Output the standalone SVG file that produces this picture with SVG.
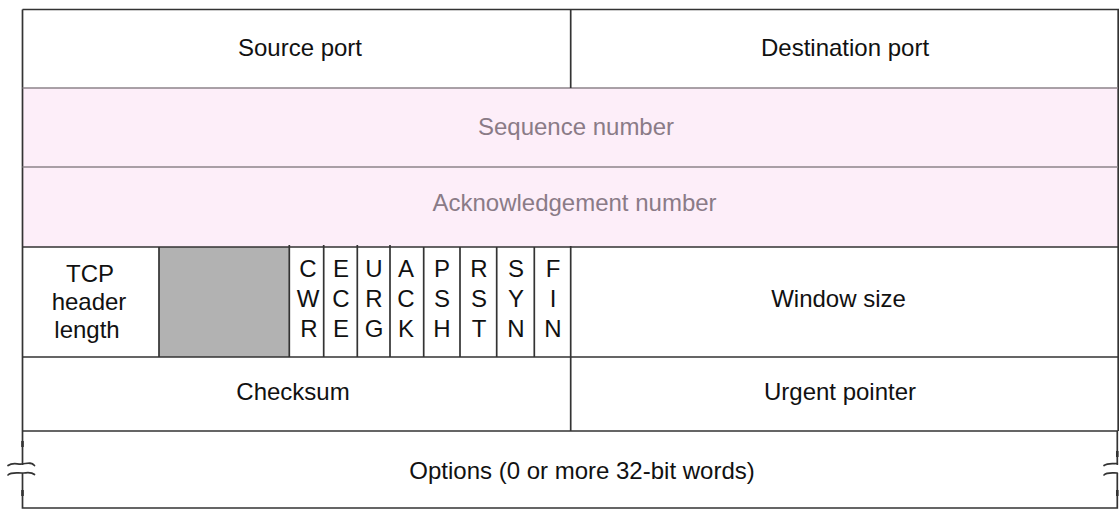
<svg xmlns="http://www.w3.org/2000/svg" width="1119" height="509" viewBox="0 0 1119 509">
<style>
.t{font-family:"Liberation Sans",Arial,sans-serif;font-size:24px;fill:#111;text-anchor:middle}
.p{fill:#8a7b87}
.f{font-size:24px}
.ln{stroke:#333;stroke-width:1.7;fill:none}
.lt{stroke:#8d848a;stroke-width:1.4;fill:none}
.sq{stroke:#333;stroke-width:1.7;fill:none;stroke-linecap:round}
</style>
<rect x="0" y="0" width="1119" height="509" fill="#fff"/>
<g id="row-ports">
<rect x="22.5" y="9.5" width="1095.5" height="78.5" fill="#fff"/>
<text class="t" x="300" y="56">Source port</text>
<text class="t" x="845" y="56">Destination port</text>
</g>
<g id="seq">
<rect x="22.5" y="88" width="1095.5" height="79" fill="#fdeef9"/>
<text class="t p" x="576" y="135">Sequence number</text>
</g>
<g id="ack">
<rect x="22.5" y="167" width="1095.5" height="80" fill="#fdeef9"/>
<text class="t p" x="574.5" y="211">Acknowledgement number</text>
</g>
<g id="hlen">
<text class="t" x="90" y="282">TCP</text>
<text class="t" x="89" y="310">header</text>
<text class="t" x="87" y="338">length</text>
</g>
<g id="reserved">
<rect x="159" y="247" width="130.3" height="110" fill="#b2b2b2"/>
</g>
<g id="flags" class="t f">
<text x="308" y="277">C</text><text x="308" y="307">W</text><text x="309" y="337">R</text>
<text x="341" y="277">E</text><text x="341" y="307">C</text><text x="341" y="337">E</text>
<text x="374" y="277">U</text><text x="374" y="307">R</text><text x="374" y="337">G</text>
<text x="406" y="277">A</text><text x="406" y="307">C</text><text x="406" y="337">K</text>
<text x="442" y="277">P</text><text x="442" y="307">S</text><text x="442" y="337">H</text>
<text x="479" y="277">R</text><text x="479" y="307">S</text><text x="479" y="337">T</text>
<text x="516" y="277">S</text><text x="516" y="307">Y</text><text x="516" y="337">N</text>
<text x="553" y="277">F</text><text x="553" y="307">I</text><text x="553" y="337">N</text>
</g>
<g id="window">
<text class="t" x="838.5" y="307">Window size</text>
</g>
<g id="checksum">
<text class="t" x="293" y="400">Checksum</text>
</g>
<g id="urgent">
<text class="t" x="840" y="400">Urgent pointer</text>
</g>
<g id="options">
<text class="t" x="582" y="479">Options (0 or more 32-bit words)</text>
</g>
<g id="connectors">
<path class="ln" d="M22.5,9.5 H1118.2 V431 M22.5,9.5 V465 M22.5,473 V508 H1117.3 V473 M1117.3,465 V431"/>
<path class="lt" d="M22.5,88 H1118 M22.5,167 H1118"/>
<path class="ln" d="M22.5,247 H1118 M22.5,357 H1118 M22.5,431 H1118"/>
<path class="ln" d="M570.7,9.5 V88 M570.7,246 V431"/>
<path class="ln" d="M159,247 V357 M289.3,245 V357 M323.7,245 V357 M357.3,245 V357 M390,245 V357 M423.7,247 V357 M460,247 V357 M496.7,247 V357 M534.3,247 V357"/>
<path class="sq" d="M8,465.5 C13,462 17,464.5 22,464 C27,463.5 31,461.5 34.5,465.5"/>
<path class="sq" d="M8,475 C11,472 16,473 22,473 C27,473 31,471.5 34.5,474.5"/>
<path class="sq" d="M1104,465.5 C1108,462.5 1113,464 1117.3,463.5"/>
<path class="sq" d="M1104,475 C1107,472 1112,473 1117.3,473"/>
<path stroke="#333" stroke-width="2.6" d="M22.5,441 V447 M22.5,490 V496 M1117.3,451 V457 M1117.3,490 V496"/>
</g>
</svg>
